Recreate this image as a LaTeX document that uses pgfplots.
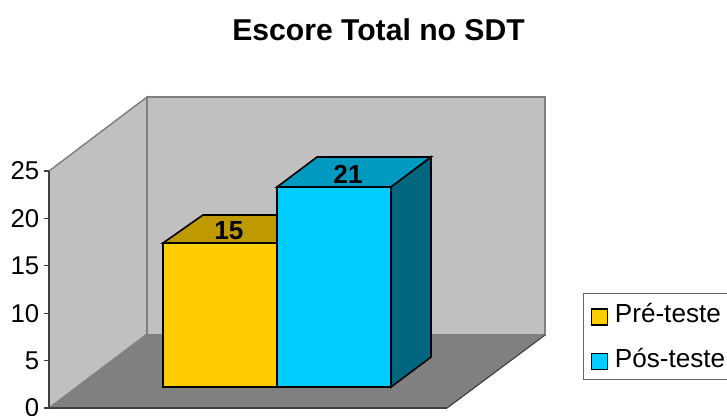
\documentclass[border=0pt]{standalone}
\usepackage{fontspec}
\setmainfont{Liberation Sans}
\usepackage{pgfplots}
\pgfplotsset{compat=1.18}
\definecolor{wall}{HTML}{C0C0C0}
\definecolor{floorc}{HTML}{808080}
\definecolor{yfront}{HTML}{FFCC00}
\definecolor{ytop}{HTML}{BF9900}
\definecolor{bfront}{HTML}{00CCFF}
\definecolor{btop}{HTML}{0099BF}
\definecolor{bside}{HTML}{006680}
\pgfplotsset{
  barface/.style={draw=black,line width=1.2pt,line join=miter,y filter/.expression={y+2.215}},
  swatch/.style={legend image code/.code={\draw[#1,line width=1.2pt] (0pt,-8pt) rectangle (12pt,4pt);\path (15pt,0pt);}},
}
\begin{document}
\begin{tikzpicture}
\begin{axis}[
  scale only axis,
  width=298.5pt,height=177.75pt,
  xmin=49,xmax=447,ymin=0,ymax=25,
  clip=false,axis on top,
  axis lines=left,
  axis line style={-,color=black!75,line width=0.9pt},
  xtick=\empty,
  ytick={0,5,10,15,20,25},
  tick style={color=black!75,line width=0.9pt},
  tick align=outside,
  major tick length=3.75pt,
  tick label style={font=\fontsize{19.3}{19.3}\selectfont},
  /pgf/number format/assume math mode=true,
  legend cell align=left,
  legend style={
    at={(axis cs:583,12.13)},anchor=north west,
    draw=black!60,line width=0.8pt,fill=white,
    font=\fontsize{19.6}{19.6}\selectfont,
    row sep=13.5pt,inner xsep=5.5pt,inner ysep=5.5pt,
  },
]
% walls and floor
\addplot[fill=wall,draw=floorc,line width=1.1pt,forget plot] coordinates {(49,25)(147,32.81)(147,7.8)(49,0)} -- cycle;
\addplot[fill=wall,draw=floorc,line width=1.1pt,forget plot] coordinates {(147,32.81)(545,32.81)(545,7.7)(147,7.7)} -- cycle;
\addplot[fill=floorc,draw=none,forget plot] coordinates {(49,0)(147,7.75)(545,7.75)(447,0)} -- cycle;
\addplot[draw=black!75,line width=0.9pt,forget plot] coordinates {(447,0)(545,7.7)};
% Pre-teste
\addplot[barface,fill=ytop,forget plot] coordinates {(163,15.19)(203,18.15)(317,18.15)(277,15.19)} -- cycle;
\addplot[barface,fill=yfront,forget plot] coordinates {(163,0)(163,15.19)(277,15.19)(277,0)} -- cycle;
% Pos-teste
\addplot[barface,fill=btop,forget plot] coordinates {(277,21.1)(317,24.26)(431,24.26)(391,21.1)} -- cycle;
\addplot[barface,fill=bside,forget plot] coordinates {(391,0)(391,21.1)(431,24.26)(431,3.16)} -- cycle;
\addplot[barface,fill=bfront,forget plot] coordinates {(277,0)(277,21.1)(391,21.1)(391,0)} -- cycle;
\addlegendimage{swatch={fill=yfront}}
\addlegendentry{Pré-teste}
\addlegendimage{swatch={fill=bfront}}
\addlegendentry{Pós-teste}
\node[font=\fontsize{19.6}{19.6}\selectfont\bfseries] at (axis cs:229,18.7) {15};
\node[font=\fontsize{19.6}{19.6}\selectfont\bfseries] at (axis cs:348,24.6) {21};
\node[font=\fontsize{22.6}{22.6}\selectfont\bfseries] at (axis cs:378.5,39.9) {Escore Total no SDT};
\coordinate (bbA) at (axis cs:0,-0.738);
\coordinate (bbB) at (axis cs:727,43.04);
\end{axis}
\pgfresetboundingbox
\path (bbA) rectangle (bbB);
\end{tikzpicture}
\end{document}
